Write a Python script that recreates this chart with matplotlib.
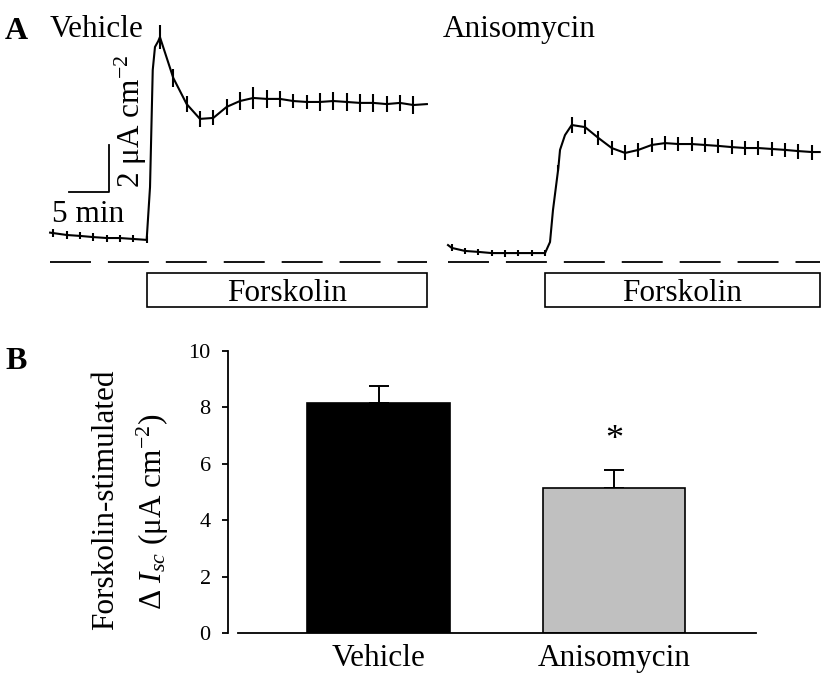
import numpy as np
import matplotlib.pyplot as plt
from matplotlib.patches import Rectangle

plt.rcParams['font.family'] = ['Liberation Serif', 'DejaVu Serif']
plt.rcParams['mathtext.fontset'] = 'custom'
plt.rcParams['mathtext.rm'] = 'Liberation Serif'
plt.rcParams['mathtext.it'] = 'Liberation Serif:italic'
plt.rcParams['lines.scale_dashes'] = False

# panel A: mean Isc traces, time in min, Isc in uA cm-2, sem 0 = no sample tick
veh_t = [-0.4, 0.0, 1.67, 3.33, 5.0, 6.67, 8.33, 10.0, 11.67,
         12.09, 12.43, 12.71, 13.12,
         13.33, 15.0, 16.67, 18.33, 20.0, 21.67, 23.33, 25.0, 26.67, 28.33,
         30.0, 31.67, 33.33, 35.0, 36.67, 38.33, 40.0, 41.67, 43.33, 45.0,
         46.7]
veh_isc = [1.25, 1.23, 1.15, 1.11, 1.06, 1.02, 1.02, 0.98, 0.94,
           3.19, 8.17, 9.15, 9.40,
           9.57, 7.83, 6.72, 6.09, 6.13, 6.60, 6.85, 6.98, 6.94, 6.94,
           6.85, 6.81, 6.81, 6.85, 6.81, 6.77, 6.77, 6.72, 6.77, 6.68,
           6.72]
veh_sem = [0, 0.18, 0.15, 0.15, 0.18, 0.15, 0.15, 0.15, 0.15,
           0, 0, 0, 0,
           0.50, 0.40, 0.35, 0.35, 0.32, 0.35, 0.38, 0.45, 0.38, 0.35,
           0.30, 0.30, 0.40, 0.40, 0.38, 0.38, 0.38, 0.35, 0.35, 0.38,
           0]

ani_t = [-0.46, 0.0, 1.67, 3.33, 5.0, 6.67, 8.33, 10.0, 11.67,
         12.29, 12.66, 13.33, 13.54, 14.16,
         15.0, 16.67, 18.33, 20.0, 21.67, 23.33, 25.0, 26.67, 28.33,
         30.0, 31.67, 33.33, 35.0, 36.67, 38.33, 40.0, 41.67, 43.33, 45.0,
         46.0]
ani_isc = [0.72, 0.60, 0.47, 0.43, 0.38, 0.38, 0.38, 0.38, 0.38,
           0.85, 2.21, 4.00, 4.77, 5.40,
           5.83, 5.74, 5.28, 4.85, 4.64, 4.77, 4.98, 5.06, 5.02,
           5.02, 4.98, 4.94, 4.89, 4.85, 4.85, 4.81, 4.77, 4.72, 4.68,
           4.68]
ani_sem = [0, 0.15, 0.12, 0.12, 0.12, 0.15, 0.12, 0.12, 0.12,
           0, 0, 0.12, 0, 0,
           0.32, 0.30, 0.30, 0.30, 0.32, 0.30, 0.30, 0.30, 0.30,
           0.30, 0.30, 0.30, 0.30, 0.30, 0.30, 0.30, 0.30, 0.32, 0.32,
           0]

forskolin_on = 11.67

# panel B
groups = ['Vehicle', 'Anisomycin']
delta_isc = [8.16, 5.14]
delta_sem = [0.60, 0.64]
bar_colors = ['black', '#c0c0c0']

W, H = 822, 682
fig = plt.figure(figsize=(W / 100, H / 100), dpi=100)


def box(x0, y0, x1, y1):
    # pixel box (top-left origin) -> figure rect
    return [x0 / W, 1 - y1 / H, (x1 - x0) / W, (y1 - y0) / H]


def trace_axes(x_first, t_lo, t_hi):
    ax = fig.add_axes(box(x_first + t_lo * 8, 262 - 10.5 * 23.5,
                          x_first + t_hi * 8, 262 + 2.5 * 23.5))
    ax.set_xlim(t_lo, t_hi)
    ax.set_ylim(-2.5, 10.5)
    ax.axis('off')
    return ax


def draw_trace(ax, t, isc, sem):
    ax.plot(t, isc, color='black', lw=1.5)
    ax.errorbar(t, isc, yerr=sem, fmt='none', ecolor='black',
                elinewidth=1.5, capsize=0)
    ax.plot([t[0], t[-1]], [0, 0], color='black', lw=1.3,
            ls=(0, (29.5, 12.2)))
    ax.add_patch(Rectangle((forskolin_on, -1.91), t[-1] - forskolin_on, 1.44,
                           fill=False, lw=1.2, ec='black', clip_on=False))
    ax.text((forskolin_on + t[-1]) / 2, -1.66, 'Forskolin', fontsize=22.5,
            ha='center', va='baseline')


axv = trace_axes(53.3, -1, 47.5)
draw_trace(axv, veh_t, veh_isc, veh_sem)
axa = trace_axes(451.7, -1, 46.3)
draw_trace(axa, ani_t, ani_isc, ani_sem)

# scale bar: 5 min x 2 uA cm-2
axv.plot([1.96, 6.96, 6.96], [2.98, 2.98, 4.98], color='black', lw=1.3)
axv.text(4.34, 1.70, '5 min', fontsize=22.5, ha='center', va='baseline')
axv.text(9.7, 3.15, r'2 μA cm$^{-2}$', fontsize=22.5, rotation=90,
         ha='center', va='bottom')

fig.text(5 / W, 1 - 39 / H, 'A', fontsize=23, fontweight='bold', va='baseline')
fig.text(50 / W, 1 - 37 / H, 'Vehicle', fontsize=22.5, va='baseline')
fig.text(443 / W, 1 - 37 / H, 'Anisomycin', fontsize=22.5, va='baseline')
fig.text(5 / W, 1 - 369 / H, 'B', fontsize=23, fontweight='bold', va='baseline')

# panel B bars
axb = fig.add_axes(box(238, 351, 756, 633))
x = np.arange(len(groups))
axb.bar(x, delta_isc, width=0.607, color=bar_colors, edgecolor='black',
        lw=1.2, zorder=2)
axb.errorbar(x, delta_isc, yerr=[[0, 0], delta_sem], fmt='none',
             ecolor='black', elinewidth=1.4, capsize=7.2, capthick=1.4,
             zorder=1)
axb.text(1, delta_isc[1] + delta_sem[1] + 0.45, '*', fontsize=26,
         ha='center', va='bottom')
axb.set_xlim(-0.597, 1.603)
axb.set_ylim(0, 10)
axb.set_yticks([0, 2, 4, 6, 8, 10])
axb.set_xticks(x)
axb.set_xticklabels(groups, fontsize=22.5)
axb.tick_params(axis='x', length=0, pad=8)
axb.tick_params(axis='y', labelsize=16, length=4.5, width=1.3,
                direction='out', pad=8)
for s in ['top', 'right']:
    axb.spines[s].set_visible(False)
axb.spines['left'].set_position(('outward', 7.2))
axb.spines['left'].set_linewidth(1.3)
axb.spines['bottom'].set_linewidth(1.3)

fig.text(106 / W, 1 - 500 / H, 'Forskolin-stimulated', fontsize=22.5,
         rotation=90, ha='center', va='center')
fig.text(153 / W, 1 - 512 / H, r'Δ $I_{sc}$ (μA cm$^{-2}$)', fontsize=22.5,
         rotation=90, ha='center', va='center')

fig.savefig('out.png', dpi=100)
